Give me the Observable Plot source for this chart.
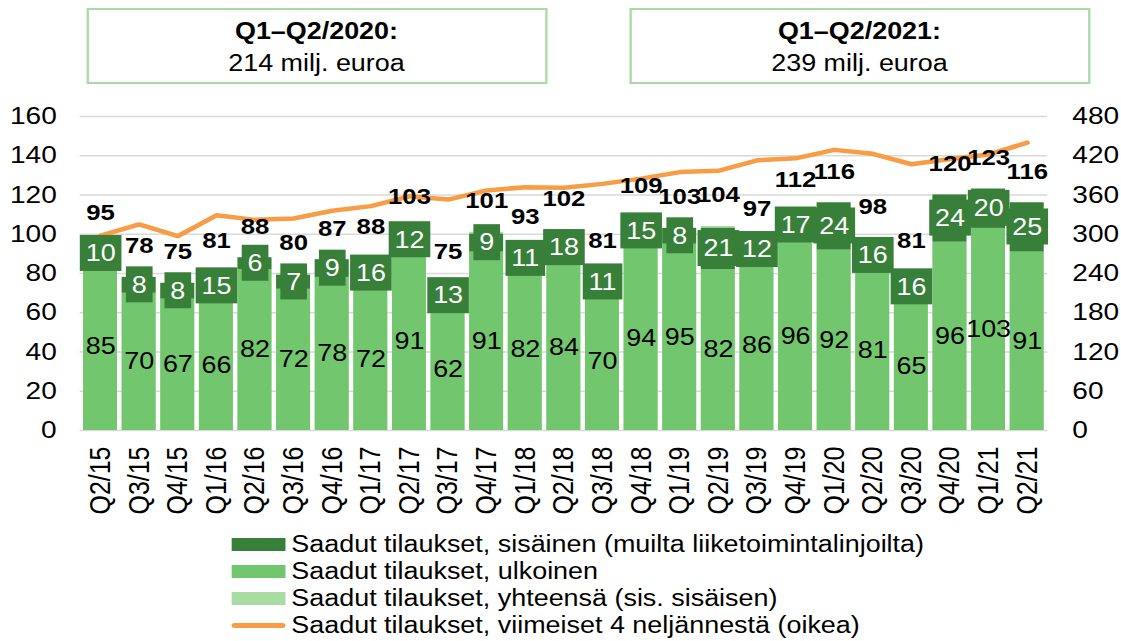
<!DOCTYPE html>
<html>
<head>
<meta charset="utf-8">
<script src="https://cdn.jsdelivr.net/npm/d3@7"></script>
<script src="https://cdn.jsdelivr.net/npm/@observablehq/plot@0.6"></script>
<style>
html, body { margin: 0; padding: 0; background: #fff; }
body { width: 1121px; height: 641px; overflow: hidden; position: relative;
       font-family: "Liberation Sans", Arial, sans-serif; color: #000; }
#wrap { position: absolute; left: 0; top: 0; width: 958px; height: 641px;
        transform: scaleX(1.17); transform-origin: 0 0; }
.box { position: absolute; top: 8px; width: 394px; height: 76px; box-sizing: border-box;
       border: 2px solid #a9dca3; text-align: center; font-size: 23px; line-height: 32px; padding-top: 5px; }
.box b { font-weight: bold; }
#chart { position: absolute; left: 0; top: 95px; }
#legend { position: absolute; left: 198px; top: 531px; font-size: 23px; line-height: 27px; }
.row { display: flex; align-items: center; height: 27px; white-space: nowrap; }
.sw { width: 46px; height: 13px; margin-right: 5px; flex: none; }
.sw.line { height: 5px; border-radius: 3px; }
</style>
</head>
<body>
<div id="wrap">
  <div class="box" style="left:73.5px"><b>Q1–Q2/2020:</b><br>214 milj. euroa</div>
  <div class="box" style="left:537.6px"><b>Q1–Q2/2021:</b><br>239 milj. euroa</div>
  <div id="chart"></div>
  <div id="legend"></div>
</div>
<script>
const quarters = ["Q2/15","Q3/15","Q4/15","Q1/16","Q2/16","Q3/16","Q4/16","Q1/17","Q2/17","Q3/17","Q4/17","Q1/18","Q2/18","Q3/18","Q4/18","Q1/19","Q2/19","Q3/19","Q4/19","Q1/20","Q2/20","Q3/20","Q4/20","Q1/21","Q2/21"];
const external = [85,70,67,66,82,72,78,72,91,62,91,82,84,70,94,95,82,86,96,92,81,65,96,103,91];
const internal = [10,8,8,15,6,7,9,16,12,13,9,11,18,11,15,8,21,12,17,24,16,16,24,20,25];
const totals   = [95,78,75,81,88,80,87,88,103,75,101,93,102,81,109,103,104,97,112,116,98,81,120,123,116];
const rolling4 = [298,315,297,329,322,324,336,343,358,353,367,372,371,377,385,395,397,413,416,429,423,407,415,422,440];
const leftTicks = [0,20,40,60,80,100,120,140,160];
const rightTicks = [0,60,120,180,240,300,360,420,480];
const seriesNames = [
  "Saadut tilaukset, sisäinen (muilta liiketoimintalinjoilta)",
  "Saadut tilaukset, ulkoinen",
  "Saadut tilaukset, yhteensä (sis. sisäisen)",
  "Saadut tilaukset, viimeiset 4 neljännestä (oikea)"
];
const colors = { internal: "#38803a", external: "#72c76e", total: "#a9dca3", rolling: "#f89c45" };

const data = quarters.map((q, i) => ({ q, ext: external[i], int: internal[i], total: totals[i], roll: rolling4[i] }));
const toLeft = d3.scaleLinear().domain([0, 480]).range([0, 160]);
const font = '"Liberation Sans", Arial, sans-serif';

const plot = Plot.plot({
  width: 958, height: 425,
  marginTop: 21, marginBottom: 90, marginLeft: 68, marginRight: 63,
  x: { domain: quarters, paddingInner: 0.11, paddingOuter: 0.05, axis: null },
  y: { domain: [0, 160], axis: null },
  style: { fontFamily: font, fontSize: "24px", color: "#000", background: "transparent", overflow: "visible" },
  marks: [
    Plot.ruleY(leftTicks, { stroke: "#d9d9d9", strokeWidth: 1.5 }),
    Plot.axisY(leftTicks, { anchor: "left", tickSize: 0, tickPadding: 20, fontSize: 24, label: null }),
    Plot.axisY(rightTicks.map(v => toLeft(v)), { anchor: "right", tickSize: 0, tickPadding: 21, fontSize: 24, label: null,
      tickFormat: d => String(Math.round(toLeft.invert(d))) }),
    Plot.axisX({ tickRotate: -90, tickSize: 0, tickPadding: 16, fontSize: 25, label: null }),
    Plot.barY(data, { x: "q", y: "total", fill: colors.total }),
    Plot.barY(data, { x: "q", y1: 0, y2: "ext", fill: colors.external }),
    Plot.barY(data, { x: "q", y1: "ext", y2: d => d.ext + d.int, fill: colors.internal }),
    Plot.line(data, { x: "q", y: d => toLeft(d.roll), stroke: colors.rolling, strokeWidth: 4.5 }),
    Plot.text(data, { x: "q", y: d => d.ext / 2, text: d => String(d.ext), fontSize: 23, fill: "#000" }),
    Plot.text(data, { x: "q", y: d => d.ext + d.int / 2, text: d => String(d.int), fontSize: 23, fill: "#fff",
      ariaDescription: "internal-labels" }),
    Plot.text(data, { x: "q", y: "total", dy: -31, text: d => String(d.total), fontSize: 22, fontWeight: "bold", fill: "#000" })
  ]
});
document.getElementById("chart").appendChild(plot);

// dark green label boxes behind internal values
plot.querySelectorAll('g[aria-description="internal-labels"] text').forEach(t => {
  const bb = t.getBBox();
  const r = document.createElementNS("http://www.w3.org/2000/svg", "rect");
  const cy = bb.y + bb.height / 2;
  r.setAttribute("x", bb.x - 5);
  r.setAttribute("y", cy - 18);
  r.setAttribute("width", bb.width + 10);
  r.setAttribute("height", 36);
  r.setAttribute("fill", colors.internal);
  if (t.getAttribute("transform")) r.setAttribute("transform", t.getAttribute("transform"));
  t.parentNode.insertBefore(r, t);
});

// legend
const legend = document.getElementById("legend");
const swColors = [colors.internal, colors.external, colors.total, colors.rolling];
seriesNames.forEach((name, i) => {
  const row = document.createElement("div");
  row.className = "row";
  const sw = document.createElement("div");
  sw.className = "sw" + (i === 3 ? " line" : "");
  sw.style.background = swColors[i];
  const tx = document.createElement("span");
  tx.textContent = name;
  row.appendChild(sw); row.appendChild(tx);
  legend.appendChild(row);
});
</script>
</body>
</html>
